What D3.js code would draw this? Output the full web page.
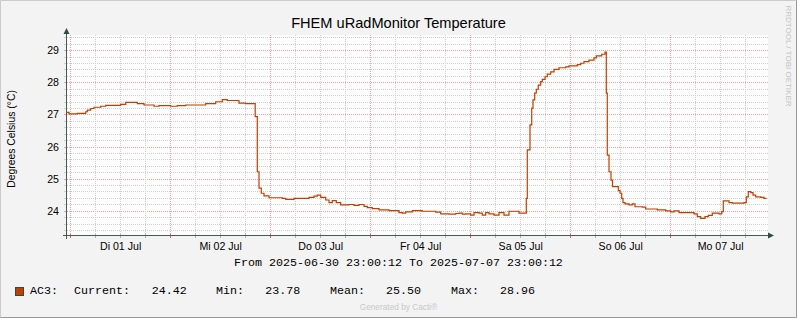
<!DOCTYPE html>
<html lang="de">
	<head>
		<meta charset="utf-8">
		<title>FHEM uRadMonitor Temperature</title>
		<script type="text/javascript" src="https://d3js.org/d3.v7.min.js"></script>
		<style type="text/css">
            body{margin:0;background:#f3f3f3;}
            #chart1{width:797px;height:318px;}
            .sans{font-family:"Liberation Sans",Arial,sans-serif;}
            .mono{font-family:"Liberation Mono","Courier New",monospace;}
		</style>
	</head>
	<body>
    <div id="chart1"></div>
		<script type="text/javascript">
            // time range of the graph
            var startTime = new Date(2025, 5, 30, 23, 0, 12)
            var endTime = new Date(2025, 6, 7, 23, 0, 12)

            // readings, hours after startTime -> degrees
            var hoursFromStart = [0, 0.72, 2.71, 4.73, 5.11, 5.93, 6.72, 8.33, 9.53, 13.13, 14.33, 17.11, 18.72, 21.12, 22.32, 25.13, 26.71, 28.73, 33.53, 35.93, 37.51, 38.71, 41.52, 43.13,
                45.41, 45.91, 46.32, 46.87, 47.52, 48.72, 51.91, 52.73, 54.72, 58.32, 59.52, 60.31, 61.13, 62.33, 63.12, 63.91, 64.87, 65.93, 67.92, 69.12, 70.32, 71.52, 72.31, 73.51, 75.12, 77.52,
                79.92, 80.71, 81.53, 83.11, 85.51, 88.73, 89.93, 91.92, 93.53, 94.32, 95.11, 95.93, 97.13, 97.92, 99.12, 99.91, 100.73, 101.52, 102.72, 103.92, 105.12, 106.32, 108.72,
                110.47, 110.71, 111.36, 111.77, 112.08, 112.49, 112.87, 113.35, 113.93, 114.31, 114.96, 115.51, 116.33, 117.12, 118.32, 119.93, 120.72, 122.71, 123.53, 124.32, 125.52, 126.72, 127.27, 128.57, 129.36,
                129.67, 129.91, 130.32, 130.8, 131.16, 132.55, 132.96, 133.37, 133.68, 134.16, 135.12, 135.91, 136.56, 138.31, 139.13, 141.91, 143.93, 145.13, 145.92, 147.12, 150.72, 151.51, 152.33, 153.36, 154.15, 155.11, 156.72, 157.37, 157.75, 159.12, 159.91, 162.72, 163.27, 163.75, 164.33, 164.88, 165.53, 166.73, 167.52, 168]
            var temps = [27.08, 27.03, 27.05, 27.10, 27.15, 27.20, 27.24, 27.27, 27.30, 27.33, 27.39, 27.35, 27.31, 27.27, 27.29, 27.27, 27.29, 27.31, 27.35, 27.41, 27.48, 27.45, 27.37, 27.35,
                26.95, 25.23, 24.72, 24.56, 24.48, 24.42, 24.40, 24.37, 24.40, 24.43, 24.47, 24.50, 24.43, 24.35, 24.27, 24.33, 24.27, 24.20, 24.21, 24.18, 24.21, 24.15, 24.11, 24.08, 24.04, 24.02,
                23.96, 23.94, 23.98, 24.02, 24.00, 23.97, 23.92, 23.91, 23.93, 23.94, 23.91, 23.92, 23.88, 23.96, 23.94, 23.88, 23.96, 23.92, 23.88, 23.96, 23.88, 24.00, 23.94,
                24.40, 25.91, 26.69, 27.21, 27.47, 27.68, 27.80, 27.93, 28.04, 28.11, 28.19, 28.27, 28.34, 28.42, 28.47, 28.50, 28.53, 28.57, 28.61, 28.66, 28.71, 28.78, 28.84, 28.89, 28.96,
                27.68, 25.75, 25.23, 24.97, 24.77, 24.64, 24.56, 24.40, 24.27, 24.23, 24.20, 24.23, 24.14, 24.13, 24.07, 24.04, 24.01, 23.98, 24.01, 23.96, 23.92, 23.83, 23.78, 23.83, 23.87, 23.94, 23.92, 23.99, 24.32, 24.27, 24.25, 24.27, 24.45, 24.61, 24.58, 24.50, 24.45, 24.43, 24.40, 24.42]

            var yTicks = [24, 25, 26, 27, 28, 29]
            var dayLabels = ["Di 01 Jul", "Mi 02 Jul", "Do 03 Jul", "Fr 04 Jul", "Sa 05 Jul", "So 06 Jul", "Mo 07 Jul"]

            var legendName = "AC3:"
            var legendLabels = ["Current:", "Min:", "Mean:", "Max:"]
            var legendValues = ["24.42", "23.78", "25.50", "28.96"]

            drawChart()

            function drawChart(){
                var W = 797, H = 318
                var x0 = 66, x1 = 766, yTop = 35, yBot = 235
                var axisColor = "#3f5f55"
                var lineColor = "#c04000"

                var xScale = d3.scaleTime().domain([startTime, endTime]).range([x0, x1])
                var yScale = d3.scaleLinear().domain([23.26, 29.49]).range([yBot, yTop])

                var svg = d3.select("#chart1").append("svg")
                    .attr("width", W).attr("height", H)

                // background + 3d border
                svg.append("rect").attr("width", W).attr("height", H).attr("fill", "#f3f3f3")
                svg.append("path").attr("d", "M0.5," + (H - 0.5) + "V0.5H" + (W - 0.5))
                    .attr("stroke", "#cbcbcb").attr("fill", "none")
                svg.append("path").attr("d", "M" + (W - 0.5) + ",0.5V" + (H - 0.5) + "H0.5")
                    .attr("stroke", "#999999").attr("fill", "none")

                // canvas
                svg.append("rect").attr("x", x0 + 1).attr("y", yTop).attr("width", x1 - x0 + 1).attr("height", yBot - yTop)
                    .attr("fill", "#fdfdfd")

                var grid = svg.append("g").attr("shape-rendering", "crispEdges")

                // horizontal grid, minor every 0.2, major every 1
                var yMinor = d3.range(23.4, 29.45, 0.2).map(function(v){ return Math.round(v * 10) / 10 })
                yMinor.forEach(function(v){
                    var major = yTicks.indexOf(v) >= 0
                    var y = Math.floor(yScale(v)) + 0.5
                    var col = major ? "#f0a0a0" : "#cfcfcf"
                    grid.append("line").attr("x1", x0 + 1).attr("x2", x1 + 2).attr("y1", y).attr("y2", y)
                        .attr("stroke", col).attr("stroke-dasharray", "1,1")
                    grid.append("line").attr("x1", x0 - 2).attr("x2", x0 + 1).attr("y1", y).attr("y2", y)
                        .attr("stroke", col)
                })

                // vertical grid, minor every 6h, major at midnight
                var xMinor = d3.timeHour.every(6).range(startTime, endTime)
                xMinor.forEach(function(t){
                    var major = t.getHours() == 0
                    var x = Math.floor(xScale(t)) + 0.5
                    var col = major ? "#f0a0a0" : "#cfcfcf"
                    grid.append("line").attr("x1", x).attr("x2", x).attr("y1", yTop).attr("y2", yBot)
                        .attr("stroke", col).attr("stroke-dasharray", "1,1")
                    grid.append("line").attr("x1", x).attr("x2", x).attr("y1", yBot - 1).attr("y2", yBot + 3)
                        .attr("stroke", major ? "#e06060" : "#b0b0b0")
                })

                // axes with arrows
                var ax = svg.append("g")
                ax.append("line").attr("x1", x0 - 3).attr("x2", x1 + 4).attr("y1", yBot + 0.5).attr("y2", yBot + 0.5)
                    .attr("stroke", axisColor).attr("shape-rendering", "crispEdges")
                ax.append("line").attr("x1", x0 + 0.5).attr("x2", x0 + 0.5).attr("y1", yBot + 4).attr("y2", yTop - 3)
                    .attr("stroke", axisColor).attr("shape-rendering", "crispEdges")
                ax.append("path").attr("d", "M" + (x0 + 0.5) + "," + (yTop - 7) + "L" + (x0 - 2.5) + "," + (yTop - 1) + "L" + (x0 + 3.5) + "," + (yTop - 1) + "Z")
                    .attr("fill", "#2c4d43")
                ax.append("path").attr("d", "M" + (x1 + 8) + "," + (yBot + 0.5) + "L" + (x1 + 2) + "," + (yBot - 2.5) + "L" + (x1 + 2) + "," + (yBot + 3.5) + "Z")
                    .attr("fill", "#2c4d43")

                // y labels
                svg.selectAll(".ylab").data(yTicks).enter().append("text")
                    .attr("class", "ylab sans")
                    .attr("x", 59).attr("y", function(d){ return Math.floor(yScale(d)) + 0.5 })
                    .attr("dy", "0.36em").attr("text-anchor", "end")
                    .attr("font-size", "10.6px").attr("fill", "#000")
                    .text(function(d){ return d })

                // x labels at noon
                svg.selectAll(".xlab").data(dayLabels).enter().append("text")
                    .attr("class", "xlab sans")
                    .attr("x", function(d, i){ return xScale(new Date(2025, 6, 1 + i, 12)) + 0.5 })
                    .attr("y", 249.5).attr("text-anchor", "middle")
                    .attr("font-size", "10.6px").attr("fill", "#000")
                    .text(function(d){ return d })

                // data line
                var line = d3.line()
                    .x(function(d){ return xScale(new Date(startTime.getTime() + d[0] * 3600000)) })
                    .y(function(d){ return yScale(d[1]) })
                    .curve(d3.curveStepAfter)
                var pts = hoursFromStart.map(function(h, i){ return [h, temps[i]] })
                svg.append("path").datum(pts).attr("d", line)
                    .attr("fill", "none").attr("stroke", lineColor).attr("stroke-width", 1.2)

                // title
                svg.append("text").attr("class", "sans")
                    .attr("x", 398.5).attr("y", 28).attr("text-anchor", "middle")
                    .attr("font-size", "14.6px").attr("fill", "#000")
                    .text("FHEM uRadMonitor Temperature")

                // vertical axis title
                svg.append("text").attr("class", "sans")
                    .attr("transform", "translate(15,139) rotate(-90)")
                    .attr("text-anchor", "middle").attr("font-size", "10.4px").attr("fill", "#000")
                    .text("Degrees Celsius (°C)")

                // watermark at the right
                svg.append("text").attr("class", "sans")
                    .attr("transform", "translate(786,56) rotate(90)")
                    .attr("text-anchor", "middle").attr("font-size", "8px").attr("fill", "#c4c4c4")
                    .text("RRDTOOL / TOBI OETIKER")

                // time span
                svg.append("text").attr("class", "mono")
                    .attr("x", 398.5).attr("y", 266).attr("text-anchor", "middle")
                    .attr("font-size", "11.67px").attr("fill", "#000")
                    .attr("xml:space", "preserve")
                    .text("From 2025-06-30 23:00:12 To 2025-07-07 23:00:12")

                // legend
                svg.append("rect").attr("x", 15.5).attr("y", 287.5).attr("width", 8).attr("height", 8)
                    .attr("fill", lineColor).attr("stroke", "#2c4d43")
                svg.append("text").attr("class", "mono").attr("x", 30).attr("y", 294)
                    .attr("font-size", "11.67px").text(legendName)
                var labelX = [74, 216, 330, 451]
                var valueX = [151.7, 265.3, 386, 500]
                legendLabels.forEach(function(l, i){
                    svg.append("text").attr("class", "mono").attr("x", labelX[i]).attr("y", 294)
                        .attr("font-size", "11.67px").text(l)
                    svg.append("text").attr("class", "mono").attr("x", valueX[i]).attr("y", 294)
                        .attr("font-size", "11.67px").text(legendValues[i])
                })

                svg.append("text").attr("class", "sans")
                    .attr("x", 398.5).attr("y", 310).attr("text-anchor", "middle")
                    .attr("font-size", "8.3px").attr("fill", "#c8c8c8")
                    .text("Generated by Cacti®")
            }
        </script>
	</body>
</html>
